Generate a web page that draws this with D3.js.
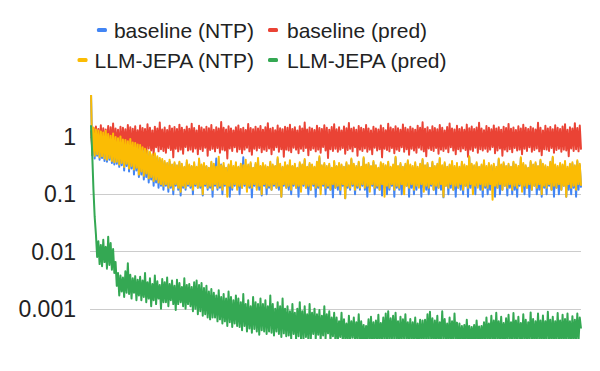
<!DOCTYPE html>
<html>
<head>
<meta charset="utf-8">
<script src="https://cdn.jsdelivr.net/npm/d3@7"></script>
<style>
  body { margin: 0; background: #fff; }
  svg { display: block; }
  text { font-family: Arial, "Liberation Sans", sans-serif; fill: #222; }
</style>
</head>
<body>
<script>
// series names + colours, in drawing order
var seriesNames = ["baseline (NTP)", "baseline (pred)", "LLM-JEPA (NTP)", "LLM-JEPA (pred)"];
var seriesColors = ["#4285F4", "#EA4335", "#FBBC04", "#34A853"];

var yTicks = [1, 0.1, 0.01, 0.001];
var yTickLabels = ["1", "0.1", "0.01", "0.001"];

var baselineNTP = [
  6,0.48,1.4,0.42,1.3,0.47,1.25,0.4,1.2,0.43,1.15,0.38,1.22,0.37,1.08,0.4,1.0,0.35,1.1,0.33,
  0.95,0.34,0.9,0.3,0.97,0.32,0.86,0.26,0.84,0.31,0.8,0.25,0.88,0.28,0.76,0.22,0.74,0.26,0.7,0.2,
  0.68,0.22,0.62,0.18,0.58,0.2,0.55,0.16,0.52,0.18,0.47,0.14,0.49,0.16,0.43,0.13,0.4,0.14,0.38,0.12,
  0.35,0.14,0.33,0.11,0.37,0.13,0.31,0.1,0.34,0.14,0.3,0.12,0.35,0.095,0.32,0.13,0.29,0.12,0.36,0.14,
  0.31,0.13,0.3,0.1,0.34,0.14,0.29,0.13,0.4,0.13,0.31,0.095,0.33,0.14,0.3,0.12,0.28,0.13,0.35,0.09,
  0.32,0.14,0.42,0.12,0.3,0.13,0.33,0.1,0.31,0.14,0.28,0.13,0.31,0.09,0.36,0.12,0.29,0.14,0.34,0.13,
  0.29,0.1,0.32,0.13,0.44,0.14,0.3,0.12,0.31,0.13,0.34,0.088,0.28,0.14,0.33,0.13,0.4,0.12,0.3,0.095,
  0.33,0.14,0.3,0.1,0.29,0.13,0.35,0.12,0.31,0.14,0.3,0.13,0.41,0.12,0.32,0.09,0.29,0.14,0.34,0.13,
  0.31,0.12,0.37,0.1,0.3,0.14,0.32,0.13,0.28,0.09,0.34,0.12,0.31,0.14,0.39,0.13,0.29,0.1,0.33,0.12,
  0.31,0.14,0.29,0.09,0.35,0.13,0.43,0.12,0.3,0.14,0.33,0.1,0.29,0.13,0.32,0.12,0.28,0.088,0.36,0.13,
  0.3,0.12,0.33,0.1,0.31,0.14,0.29,0.085,0.34,0.13,0.3,0.12,0.4,0.14,0.32,0.1,0.29,0.13,0.35,0.12,
  0.28,0.14,0.42,0.12,0.31,0.09,0.33,0.13,0.29,0.14,0.36,0.1,0.3,0.13,0.28,0.12,0.34,0.095,0.32,0.13,
  0.3,0.1,0.35,0.12,0.29,0.14,0.31,0.09,0.43,0.13,0.29,0.12,0.33,0.1,0.28,0.13,0.32,0.14,0.37,0.09,
  0.31,0.13,0.29,0.1,0.34,0.12,0.28,0.14,0.32,0.09,0.39,0.13,0.3,0.12,0.33,0.1,0.28,0.14,0.35,0.12,
  0.29,0.1,0.32,0.13,0.41,0.12,0.3,0.088,0.34,0.14,0.28,0.1,0.31,0.13,0.36,0.12,0.29,0.09,0.33,0.13,
  0.28,0.12,0.35,0.1,0.31,0.14,0.29,0.09,0.44,0.13,0.32,0.12,0.3,0.1,0.34,0.14,0.28,0.12,0.31,0.09,
  0.37,0.13,0.29,0.1,0.33,0.12,0.3,0.14,0.32,0.09,0.28,0.13,0.4,0.1,0.31,0.12,0.34,0.14,0.29,0.095,
  0.32,0.13,0.28,0.1,0.35,0.12,0.31,0.09,0.29,0.14,0.42,0.12,0.33,0.1,0.3,0.13,0.28,0.09,0.36,0.12,
  0.31,0.14,0.34,0.1,0.29,0.12,0.38,0.09,0.32,0.13,0.3,0.1,0.28,0.14,0.35,0.12,0.43,0.09,0.31,0.13,
  0.29,0.1,0.33,0.12,0.31,0.14,0.36,0.09,0.28,0.12,0.32,0.1,0.34,0.13,0.3,0.09,0.37,0.12,0.32,0.13
];

var baselinePred = [
  1.3,0.62,1.45,0.58,1.52,0.66,1.38,0.55,1.6,0.6,1.42,0.52,1.35,0.64,1.55,0.57,1.48,0.61,1.72,0.56,
  1.4,0.63,1.33,0.5,1.5,0.59,1.44,0.67,1.36,0.54,1.62,0.6,1.47,0.46,1.39,0.62,1.53,0.57,1.31,0.65,
  1.58,0.55,1.43,0.6,1.37,0.52,1.66,0.63,1.45,0.58,1.3,0.48,1.51,0.66,1.4,0.56,1.78,0.61,1.35,0.57,
  1.46,0.53,1.32,0.64,1.56,0.59,1.41,0.44,1.49,0.62,1.37,0.56,1.64,0.6,1.44,0.51,1.34,0.67,1.52,0.58,
  1.39,0.6,1.7,0.55,1.43,0.63,1.3,0.5,1.57,0.61,1.46,0.57,1.36,0.65,1.5,0.47,1.42,0.59,1.61,0.62,
  1.33,0.56,1.48,0.64,1.4,0.53,1.82,0.6,1.45,0.58,1.35,0.42,1.54,0.63,1.41,0.57,1.3,0.66,1.47,0.55,
  1.59,0.61,1.38,0.52,1.44,0.6,1.32,0.65,1.68,0.56,1.43,0.49,1.36,0.62,1.51,0.58,1.4,0.64,1.55,0.54,
  1.34,0.6,1.47,0.57,1.74,0.63,1.39,0.5,1.45,0.59,1.31,0.66,1.58,0.55,1.42,0.61,1.36,0.45,1.5,0.6,
  1.44,0.58,1.63,0.54,1.37,0.65,1.48,0.6,1.3,0.52,1.53,0.62,1.41,0.57,1.79,0.64,1.35,0.48,1.46,0.59,
  1.4,0.63,1.32,0.56,1.56,0.6,1.43,0.53,1.38,0.67,1.6,0.58,1.45,0.43,1.34,0.61,1.49,0.57,1.67,0.62,
  1.36,0.55,1.47,0.6,1.3,0.64,1.52,0.51,1.42,0.59,1.75,0.62,1.39,0.56,1.46,0.66,1.33,0.47,1.55,0.6,
  1.44,0.57,1.37,0.63,1.62,0.55,1.41,0.6,1.29,0.5,1.5,0.65,1.4,0.58,1.35,0.61,1.58,0.44,1.43,0.62,
  1.31,0.59,1.7,0.56,1.46,0.64,1.38,0.52,1.54,0.6,1.42,0.57,1.33,0.66,1.65,0.55,1.45,0.61,1.36,0.49,
  1.5,0.62,1.4,0.58,1.34,0.53,1.57,0.65,1.44,0.6,1.81,0.56,1.39,0.46,1.48,0.63,1.32,0.59,1.53,0.57,
  1.43,0.64,1.36,0.51,1.61,0.6,1.45,0.57,1.3,0.62,1.49,0.54,1.72,0.66,1.41,0.58,1.35,0.5,1.56,0.61,
  1.38,0.56,1.47,0.63,1.33,0.59,1.64,0.45,1.42,0.6,1.52,0.57,1.37,0.65,1.46,0.53,1.77,0.61,1.4,0.58,
  1.31,0.62,1.55,0.55,1.44,0.6,1.36,0.67,1.59,0.52,1.41,0.58,1.48,0.63,1.34,0.47,1.5,0.6,1.43,0.56,
  1.69,0.61,1.39,0.54,1.46,0.64,1.32,0.58,1.53,0.6,1.4,0.5,1.63,0.62,1.45,0.57,1.37,0.66,1.51,0.55,
  1.42,0.59,1.35,0.63,1.76,0.56,1.44,0.48,1.3,0.61,1.56,0.6,1.41,0.57,1.49,0.64,1.36,0.53,1.6,0.59,
  1.45,0.62,1.38,0.55,1.52,0.6,1.67,0.58,1.33,0.46,1.47,0.63,1.4,0.57,1.74,0.61,1.43,0.56,1.58,0.6
];

var jepaNTP = [
  6,0.5,1.45,0.47,1.35,0.5,1.3,0.44,1.25,0.46,1.2,0.42,1.28,0.4,1.12,0.43,1.05,0.38,1.15,0.36,
  1.0,0.37,0.95,0.33,1.02,0.35,0.9,0.3,0.88,0.34,0.84,0.28,0.92,0.31,0.8,0.27,0.78,0.29,0.74,0.22,
  0.72,0.25,0.66,0.21,0.62,0.23,0.58,0.19,0.55,0.2,0.5,0.17,0.52,0.18,0.46,0.16,0.43,0.15,0.41,0.14,
  0.38,0.15,0.35,0.13,0.4,0.14,0.33,0.12,0.36,0.15,0.32,0.13,0.37,0.11,0.34,0.14,0.3,0.13,0.39,0.15,
  0.33,0.14,0.31,0.12,0.36,0.15,0.3,0.13,0.42,0.14,0.33,0.1,0.35,0.15,0.31,0.13,0.29,0.14,0.37,0.12,
  0.34,0.15,0.3,0.13,0.45,0.14,0.32,0.12,0.35,0.15,0.29,0.09,0.33,0.14,0.38,0.13,0.31,0.15,0.36,0.12,
  0.3,0.14,0.34,0.13,0.32,0.15,0.4,0.11,0.33,0.14,0.36,0.13,0.29,0.15,0.35,0.12,0.43,0.14,0.31,0.1,
  0.35,0.15,0.32,0.13,0.3,0.14,0.37,0.12,0.33,0.15,0.31,0.13,0.44,0.14,0.34,0.09,0.3,0.15,0.36,0.13,
  0.32,0.14,0.39,0.12,0.31,0.15,0.34,0.13,0.29,0.14,0.36,0.11,0.33,0.15,0.41,0.13,0.3,0.14,0.35,0.12,
  0.33,0.15,0.3,0.13,0.37,0.14,0.46,0.1,0.32,0.15,0.35,0.13,0.31,0.14,0.34,0.12,0.29,0.15,0.38,0.13,
  0.31,0.14,0.35,0.12,0.33,0.15,0.3,0.085,0.36,0.14,0.32,0.13,0.42,0.15,0.34,0.12,0.31,0.14,0.37,0.13,
  0.3,0.15,0.44,0.13,0.33,0.14,0.35,0.11,0.31,0.15,0.38,0.13,0.32,0.14,0.29,0.12,0.36,0.15,0.34,0.09,
  0.32,0.14,0.37,0.13,0.3,0.15,0.33,0.12,0.45,0.14,0.31,0.13,0.35,0.15,0.3,0.1,0.34,0.14,0.39,0.13,
  0.33,0.15,0.31,0.12,0.36,0.14,0.3,0.13,0.34,0.15,0.41,0.11,0.32,0.14,0.35,0.13,0.29,0.15,0.37,0.12,
  0.31,0.14,0.34,0.13,0.43,0.15,0.32,0.09,0.36,0.14,0.3,0.13,0.33,0.15,0.38,0.12,0.31,0.14,0.35,0.13,
  0.3,0.15,0.37,0.12,0.33,0.14,0.31,0.13,0.46,0.15,0.34,0.1,0.32,0.14,0.36,0.13,0.3,0.15,0.33,0.12,
  0.39,0.14,0.31,0.13,0.35,0.15,0.32,0.08,0.34,0.14,0.3,0.13,0.42,0.15,0.33,0.12,0.36,0.14,0.31,0.13,
  0.34,0.15,0.3,0.12,0.37,0.14,0.33,0.13,0.31,0.15,0.44,0.11,0.35,0.14,0.32,0.13,0.29,0.15,0.38,0.12,
  0.33,0.14,0.36,0.13,0.31,0.15,0.4,0.1,0.34,0.14,0.32,0.13,0.3,0.15,0.37,0.12,0.45,0.14,0.33,0.13,
  0.31,0.15,0.35,0.12,0.33,0.14,0.38,0.09,0.3,0.15,0.34,0.13,0.36,0.14,0.32,0.12,0.39,0.15,0.34,0.14
];

var jepaPred = [
  1.6,0.5,0.12,0.04,0.02,0.008,0.015,0.006,0.013,0.0055,0.016,0.0065,0.012,0.005,0.018,0.0058,0.014,0.0048,0.011,0.0042,
  0.0065,0.0025,0.0042,0.0017,0.0038,0.002,0.0035,0.0016,0.0045,0.0019,0.0062,0.0018,0.0039,0.0015,0.0034,0.0019,0.0037,0.0014,0.0032,0.0017,
  0.0036,0.0014,0.0031,0.0016,0.0042,0.0013,0.0029,0.0015,0.0034,0.0011,0.0027,0.0014,0.0038,0.0012,0.003,0.0015,0.0026,0.001,0.0033,0.0013,
  0.0029,0.0013,0.0035,0.0011,0.0027,0.0014,0.0031,0.0012,0.0025,0.00095,0.0032,0.0012,0.0028,0.0013,0.0024,0.0011,0.0034,0.001,0.0026,0.0012,
  0.0027,0.0011,0.0024,0.0009,0.0029,0.001,0.0031,0.0008,0.0026,0.0009,0.0028,0.00075,0.0023,0.0008,0.0025,0.0007,0.002,0.00065,0.0022,0.0007,
  0.0019,0.0007,0.0017,0.0006,0.0021,0.00065,0.0016,0.00055,0.0018,0.0006,0.0015,0.0005,0.002,0.00058,0.0016,0.00048,0.0014,0.00055,0.0017,0.0005,
  0.0015,0.00048,0.0013,0.00042,0.0018,0.0005,0.0012,0.0004,0.0014,0.00045,0.0011,0.00038,0.0016,0.00044,0.0013,0.0004,0.0012,0.00035,0.0015,0.00042,
  0.0012,0.0004,0.0014,0.00036,0.0011,0.0004,0.0017,0.00038,0.0012,0.00034,0.001,0.0004,0.0013,0.00036,0.0011,0.00032,0.0015,0.00037,0.001,0.00033,
  0.0011,0.00034,0.0009,0.0003,0.0012,0.00036,0.00085,0.00029,0.001,0.00033,0.0013,0.0003,0.0009,0.00028,0.0011,0.00032,0.0008,0.00027,0.0012,0.0003,
  0.00085,0.00036,0.001,0.0003,0.0008,0.00035,0.00095,0.00028,0.00075,0.00034,0.0011,0.0003,0.0008,0.00037,0.0009,0.00027,0.0007,0.00033,0.00085,0.00028,
  0.0007,0.00027,0.0006,0.00032,0.00085,0.00026,0.00065,0.0003,0.00055,0.00025,0.00075,0.00028,0.0006,0.00031,0.0007,0.00026,0.00058,0.00029,0.0008,0.00025,
  0.0006,0.00027,0.00052,0.00025,0.0005,0.00028,0.00065,0.00026,0.00072,0.00025,0.00058,0.00028,0.00062,0.00026,0.00078,0.00025,0.00056,0.00029,0.0007,0.00026,
  0.00082,0.00027,0.0009,0.00025,0.00068,0.00029,0.00075,0.00026,0.00085,0.00028,0.0006,0.00025,0.00072,0.00027,0.00065,0.00029,0.0008,0.00026,0.00058,0.00028,
  0.00066,0.00026,0.00058,0.00028,0.0007,0.00025,0.00055,0.00027,0.00064,0.00026,0.00062,0.00028,0.00064,0.00027,0.0008,0.00026,0.00088,0.00028,0.00068,0.00025,
  0.00062,0.00027,0.00075,0.00025,0.00058,0.00028,0.0009,0.00026,0.00066,0.00029,0.00055,0.00025,0.0007,0.00027,0.0006,0.00026,0.00082,0.00028,0.00057,0.00025,
  0.00055,0.00026,0.0005,0.00028,0.00052,0.00025,0.00064,0.00027,0.0005,0.00026,0.00048,0.00028,0.00052,0.00025,0.00062,0.00027,0.00049,0.00026,0.0005,0.00028,
  0.00058,0.00025,0.0007,0.00028,0.00055,0.00026,0.00075,0.00027,0.00062,0.00025,0.00085,0.00028,0.0006,0.00026,0.00072,0.00025,0.00056,0.00027,0.00068,0.00026,
  0.00078,0.00028,0.00058,0.00025,0.00084,0.00027,0.00062,0.00026,0.00072,0.00028,0.00056,0.00025,0.0008,0.00027,0.00064,0.00026,0.00058,0.00028,0.00086,0.00025,
  0.00066,0.00027,0.0006,0.00026,0.00082,0.00028,0.00062,0.00025,0.00076,0.00027,0.0006,0.00026,0.00088,0.00028,0.00064,0.00025,0.00072,0.00027,0.0006,0.00026,
  0.00084,0.00028,0.00062,0.00025,0.00078,0.00027,0.00066,0.00026,0.00082,0.00028,0.0006,0.00025,0.00074,0.00027,0.00064,0.00026,0.00082,0.00028,0.0007,0.00045
];

var allSeries = [baselineNTP, baselinePred, jepaNTP, jepaPred];

var width = 600, height = 371;
var margin = {left: 91, right: 19, top: 95, bottom: 32};

var svg = d3.select("body").append("svg")
            .attr("width", width)
            .attr("height", height);

var x = d3.scaleLinear()
          .domain([0, baselineNTP.length - 1])
          .range([margin.left, width - margin.right]);

var y = d3.scaleLog()
          .domain([0.000295, 5.4])
          .range([height - margin.bottom, margin.top]);

// gridlines
svg.append("g").selectAll("line")
   .data(yTicks)
   .enter().append("line")
   .attr("x1", margin.left - 1)
   .attr("x2", width - margin.right)
   .attr("y1", function(d){ return Math.round(y(d)) + 0.5; })
   .attr("y2", function(d){ return Math.round(y(d)) + 0.5; })
   .attr("stroke", "#cccccc")
   .attr("stroke-width", 1);

// tick labels
svg.append("g").selectAll("text")
   .data(yTicks)
   .enter().append("text")
   .attr("x", 76)
   .attr("y", function(d){ return y(d); })
   .attr("dy", "0.36em")
   .attr("text-anchor", "end")
   .style("font-size", "23px")
   .text(function(d, i){ return yTickLabels[i]; });

svg.append("defs").append("clipPath").attr("id", "plot")
   .append("rect")
   .attr("x", margin.left - 2)
   .attr("y", margin.top)
   .attr("width", width - margin.left - margin.right + 3)
   .attr("height", height - margin.top - margin.bottom);

var line = d3.line()
             .x(function(d, i){ return x(i); })
             .y(function(d){ return y(d); });

svg.append("g").attr("clip-path", "url(#plot)")
   .selectAll("path")
   .data(allSeries)
   .enter().append("path")
   .attr("d", line)
   .attr("fill", "none")
   .attr("stroke", function(d, i){ return seriesColors[i]; })
   .attr("stroke-width", 2)
   .attr("stroke-linejoin", "round");

// legend: two rows, two columns
var legendRows = [[0, 1], [2, 3]];
var legend = svg.append("g").style("font-size", "21px");
legendRows.forEach(function(row, r) {
  var ly = 30 + r * 30;
  // left column, text ends at 254
  var t1 = legend.append("text")
                 .attr("x", 254).attr("y", ly).attr("dy", "0.36em")
                 .attr("text-anchor", "end")
                 .text(seriesNames[row[0]]);
  var w1 = t1.node().getComputedTextLength();
  legend.append("rect")
        .attr("x", 254 - w1 - 17).attr("y", ly - 2)
        .attr("width", 10).attr("height", 4).attr("rx", 1.5)
        .attr("fill", seriesColors[row[0]]);
  // right column
  legend.append("rect")
        .attr("x", 268).attr("y", ly - 2)
        .attr("width", 10).attr("height", 4).attr("rx", 1.5)
        .attr("fill", seriesColors[row[1]]);
  legend.append("text")
        .attr("x", 287).attr("y", ly).attr("dy", "0.36em")
        .text(seriesNames[row[1]]);
});
</script>
</body>
</html>
